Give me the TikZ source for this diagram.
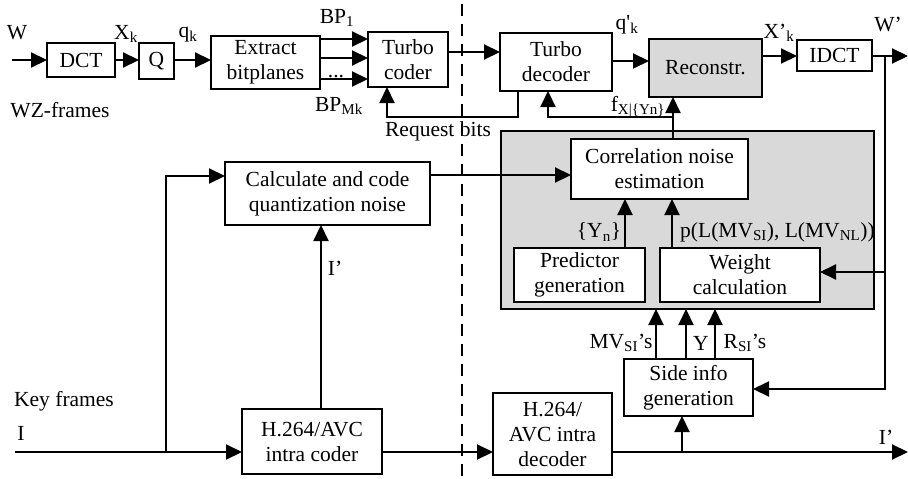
\documentclass[tikz,border=0pt]{standalone}
\usepackage{fontspec}
\setmainfont{Liberation Serif}
\usetikzlibrary{arrows.meta}
\definecolor{panel}{HTML}{D9D9D9}
\tikzset{
  lbl/.style={font=\fontsize{21.5}{25}\selectfont, inner sep=0pt},
  blk/.style={draw, line width=2.1pt, fill=white, inner sep=0pt, outer sep=0pt,
    align=center, font=\fontsize{21.5}{25}\selectfont},
  wire/.style={line width=2.1pt},
  arr/.style={wire, -{Triangle[length=16pt,width=15pt]}},
}
\newcommand{\sbs}[1]{\textsubscript{#1}}
\begin{document}
\begin{tikzpicture}[x=1pt,y=-1pt]
\useasboundingbox (0,0) rectangle (908,479);

% encoder / decoder separation
\draw[line width=2.1pt, dash pattern=on 12pt off 8pt] (462,4) -- (462,479);

% estimation panel
\node[draw, line width=2.1pt, fill=panel, inner sep=0pt, outer sep=0pt,
      minimum width=373pt, minimum height=178pt] (est) at (687.5,220) {};

% blocks
\node[blk, minimum width=68pt, minimum height=34pt] (dct) at (81,60) {DCT};
\node[blk, minimum width=35pt, minimum height=36pt] (q) at (156.5,61) {Q};
\node[blk, minimum width=109pt, minimum height=53pt] (ext) at (265.5,62.5) {Extract\\bitplanes};
\node[blk, minimum width=80pt, minimum height=55pt] (tc) at (408,59.5) {Turbo\\coder};
\node[blk, minimum width=112pt, minimum height=58pt] (td) at (556,62) {Turbo\\decoder};
\node[blk, fill=panel, minimum width=113pt, minimum height=58pt] (rec) at (705.5,68) {Reconstr.};
\node[blk, minimum width=75pt, minimum height=31pt] (idct) at (834.5,55.5) {IDCT};
\node[blk, minimum width=205pt, minimum height=63pt] (calc) at (327.5,193.5) {Calculate and code\\quantization noise};
\node[blk, minimum width=177pt, minimum height=60pt] (cne) at (659.5,169) {Correlation noise\\estimation};
\node[blk, minimum width=131pt, minimum height=54pt] (pred) at (579.5,275) {Predictor\\generation};
\node[blk, minimum width=160pt, minimum height=54pt] (wc) at (740,275) {Weight\\calculation};
\node[blk, minimum width=129pt, minimum height=57pt] (side) at (688.5,387.5) {Side info\\generation};
\node[blk, minimum width=140pt, minimum height=65pt] (enc) at (312,441.5) {H.264/AVC\\intra coder};
\node[blk, minimum width=119pt, minimum height=82pt] (dec) at (552.5,434) {H.264/\\AVC intra\\decoder};

% free ends
\coordinate (win) at (12,60);
\coordinate (wout) at (908,56);
\coordinate (kin) at (15,452);
\coordinate (kout) at (908,452);

% WZ-frame path
\draw[arr] (win) -- (dct.west |- win);
\draw[arr] (dct.east |- 0,60) -- (q.west |- 0,60);
\draw[arr] (q.east |- 0,60) -- (ext.west |- 0,60);
\draw[arr] (ext.east |- 0,39) -- (tc.west |- 0,39);
\draw[arr] (ext.east |- 0,58) -- (tc.west |- 0,58);
\draw[arr] (ext.east |- 0,79) -- (tc.west |- 0,79);
\draw[arr] (tc.east |- 0,52) -- (td.west |- 0,52);
\draw[arr] (td.south -| 518,0) -- (518,117) -- (387,117) -- (tc.south -| 387,0);
\draw[arr] (td.east |- 0,61) -- (rec.west |- 0,61);
\draw[arr] (rec.east |- 0,56) -- (idct.west |- 0,56);
\draw[arr] (idct.east |- wout) -- (wout);

% decoded frame fed back
\draw[arr] (885,56) -- (885,389) -- (side.east |- 0,389);
\draw[arr] (885,272) -- (wc.east |- 0,272);

% correlation model to decoder and reconstruction
\draw[arr] (cne.north -| 673,0) -- (rec.south -| 673,0);
\draw[arr] (673,117) -- (548,117) -- (td.south -| 548,0);

% inside the estimation panel
\draw[arr] (pred.north -| 625,0) -- (cne.south -| 625,0);
\draw[arr] (wc.north -| 672,0) -- (cne.south -| 672,0);
\draw[arr] (calc.east |- 0,175) -- (cne.west |- 0,175);

% key frame path
\draw[arr] (kin) -- (enc.west |- kin);
\draw[arr] (166,452) -- (166,176) -- (calc.west |- 0,176);
\draw[arr] (enc.north -| 321,0) -- (calc.south -| 321,0);
\draw[arr] (enc.east |- 0,452) -- (dec.west |- 0,452);
\draw[arr] (dec.east |- kout) -- (kout);
\draw[arr] (682,452) -- (side.south -| 682,0);

% side information to the panel
\draw[arr] (side.north -| 656,0) -- (est.south -| 656,0);
\draw[arr] (side.north -| 686,0) -- (est.south -| 686,0);
\draw[arr] (side.north -| 715,0) -- (est.south -| 715,0);

% labels
\node[lbl] (lw) at (17,33) {W};
\node[lbl] (lxk) at (126,34) {X\sbs{k}};
\node[lbl] (lqk) at (188,35) {q\sbs{k}};
\node[lbl] (lbp1) at (337,18) {BP\sbs{1}};
\node[lbl] (lbpm) at (339,106) {BP\sbs{Mk}};
\node[lbl, anchor=south] (ldots) at (336,78) {...};
\node[lbl] (lwz) at (60,110) {WZ-frames};
\node[lbl] (lreq) at (438,131) {Request bits};
\node[lbl] (lqp) at (627,25) {q\textquotesingle\sbs{k}};
\node[lbl] (lxp) at (779,33) {X’\sbs{k}};
\node[lbl] (lwp) at (888,25) {W’};
\node[lbl] (lf) at (638,107) {f\sbs{X|\{Yn\}}};
\node[lbl] (lyn) at (599,232) {\{Y\sbs{n}\}};
\node[lbl, anchor=west] (lp) at (680,232) {p(L(MV\sbs{SI}), L(MV\sbs{NL}))};
\node[lbl] (lip) at (335,268) {I’};
\node[lbl] (lkey) at (64,401) {Key frames};
\node[lbl] (li) at (21,433) {I};
\node[lbl] (lmv) at (621,343) {MV\sbs{SI}’s};
\node[lbl] (ly) at (701,343) {Y};
\node[lbl] (lr) at (745,343) {R\sbs{SI}’s};
\node[lbl] (lio) at (886,437) {I’};
\end{tikzpicture}
\end{document}
